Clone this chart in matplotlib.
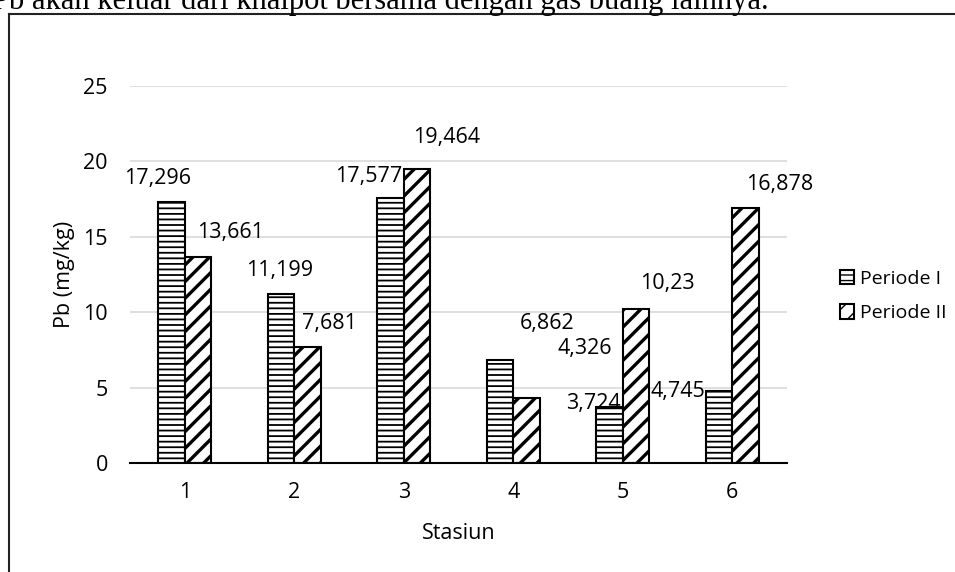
import matplotlib
matplotlib.use("Agg")
import matplotlib.pyplot as plt
from matplotlib.lines import Line2D
import numpy as np

# data
stations = ["1", "2", "3", "4", "5", "6"]
periode_1 = [17.296, 11.199, 17.577, 6.862, 3.724, 4.745]
periode_2 = [13.661, 7.681, 19.464, 4.326, 10.23, 16.878]
labels_1 = ["17,296", "11,199", "17,577", "6,862", "3,724", "4,745"]
labels_2 = ["13,661", "7,681", "19,464", "4,326", "10,23", "16,878"]
yticks = [0, 5, 10, 15, 20, 25]

# label offsets in pixels from bar top centre (dragged by hand in the original)
offs_1 = [(-14, 24), (-1, 24), (-22, 21), (47, 36), (-16, 3), (-41, 0)]
offs_2 = [(32, 24), (22, 24), (30, 32), (58, 49), (31, 25), (34, 24)]

plt.rcParams['font.family'] = ['Open Sans', 'DejaVu Sans']
FS = 15.5

fig = plt.figure(figsize=(9.55, 5.72), dpi=100)
W, H = 955, 572
ax = fig.add_axes([130 / W, 1 - 463 / H, (787 - 130) / W, (463 - 86) / H])

x = np.arange(len(stations))
w = 0.242

with plt.rc_context({'hatch.linewidth': 1.3}):
    b1 = ax.bar(x - w / 2, periode_1, w, color='white', edgecolor='black',
                linewidth=1.5, hatch='---', label='Periode I', zorder=3)
with plt.rc_context({'hatch.linewidth': 2.4}):
    b2 = ax.bar(x + w / 2, periode_2, w, color='white', edgecolor='black',
                linewidth=1.5, hatch='//', label='Periode II', zorder=3)

px = 72 / 100
for xi, v, lab, (dx, dy) in zip(x - w / 2, periode_1, labels_1, offs_1):
    ax.annotate(lab, (xi, v), xytext=(dx * px, dy * px), textcoords='offset points',
                ha='center', va='center', fontsize=FS, annotation_clip=False)
for xi, v, lab, (dx, dy) in zip(x + w / 2, periode_2, labels_2, offs_2):
    ax.annotate(lab, (xi, v), xytext=(dx * px, dy * px), textcoords='offset points',
                ha='center', va='center', fontsize=FS, annotation_clip=False)

ax.set_xlim(-0.5, 5.5)
ax.set_ylim(0, 25)
ax.set_yticks(yticks)
ax.set_xticks(x)
ax.set_xticklabels(stations)
ax.tick_params(length=0, labelsize=FS)
ax.tick_params(axis='y', pad=16)
ax.tick_params(axis='x', pad=14)
ax.grid(axis='y', color='#d9d9d9', linewidth=1.2, zorder=0)
ax.set_axisbelow(True)
for s in ['top', 'right', 'left']:
    ax.spines[s].set_visible(False)
ax.spines['bottom'].set_linewidth(1.5)
ax.spines['bottom'].set_zorder(4)

ax.set_xlabel("Stasiun", fontsize=FS, labelpad=14)
ax.set_ylabel("Pb (mg/kg)", fontsize=FS, labelpad=6)

ax.legend(loc='center left', bbox_to_anchor=(822 / W, 1 - 296 / H),
          bbox_transform=fig.transFigure, frameon=False, fontsize=14,
          handlelength=0.75, handleheight=0.75, handletextpad=0.3,
          labelspacing=0.85)

# chart frame and page text around it
fig.add_artist(Line2D([9 / W, 9 / W], [0, 1 - 14 / H], color='#222222', linewidth=1.5))
fig.add_artist(Line2D([9 / W, 1], [1 - 14 / H, 1 - 14 / H], color='#222222', linewidth=1.5))
fig.text(-8 / W, 1 - 9 / H, "Pb akan keluar dari knalpot bersama dengan gas buang lainnya.",
         family='Liberation Serif', fontsize=22, va='baseline', ha='left')

fig.savefig("out.png", dpi=100)
